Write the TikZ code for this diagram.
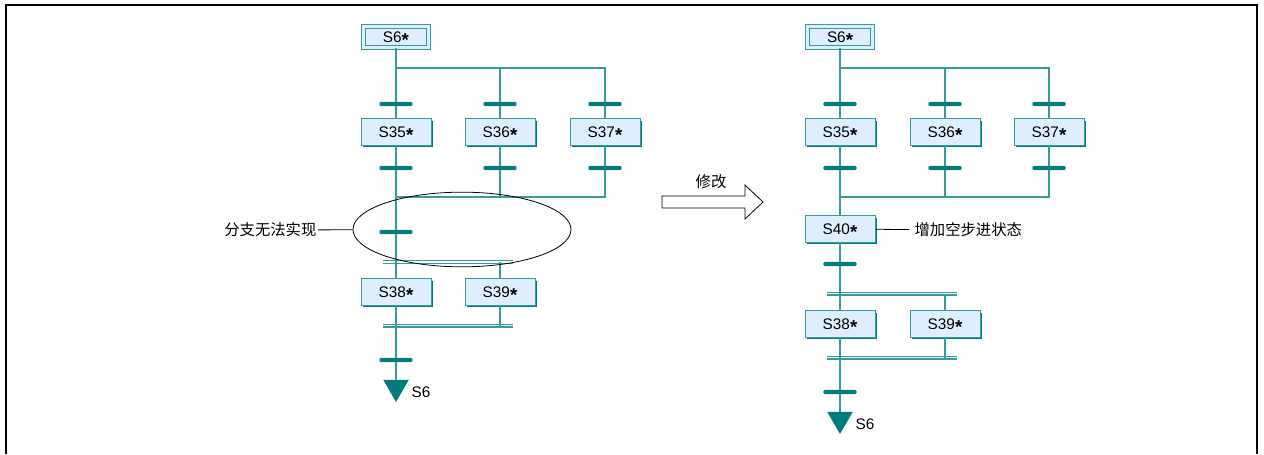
\documentclass[tikz,border=0pt]{standalone}
\usepackage{xcolor}
\usepackage{fontspec}
\setmainfont{Liberation Sans}
\newfontfamily\cjk{Noto Sans CJK SC}
\usetikzlibrary{calc, shapes.geometric, shadows}

\definecolor{sfcline}{RGB}{56,156,156}
\definecolor{sfcdark}{RGB}{0,124,124}
\definecolor{sfcfill}{RGB}{222,238,252}
\newcommand{\starmark}{\raisebox{-0.3em}[0pt][0pt]{\fontsize{14}{14}\selectfont\textbf{*}}}

\tikzset{
  stepbox/.style={draw=sfcline, fill=sfcfill, line width=0.75pt, inner sep=0pt,
    minimum width=52.5pt, minimum height=20pt,
    general shadow={fill=sfcdark, shadow xshift=1.4pt, shadow yshift=-1.4pt}},
  initbox/.style={stepbox, double=sfcfill, double distance=2pt,
    minimum width=49pt, minimum height=16pt},
  transbar/.style={fill=sfcdark, inner sep=0pt, minimum width=25pt, minimum height=3.2pt, rounded corners=1.5pt},
  endmark/.style={regular polygon, regular polygon sides=3, shape border rotate=180,
    fill=sfcdark, inner sep=0pt, outer sep=0pt, minimum size=22pt},
  flow/.style={draw=sfcline, line width=1pt},
  pardbl/.style={draw=sfcline, line width=0.8pt, double=white, double distance=1.4pt},
  notetext/.style={font=\cjk\fontsize{11.5}{13}\selectfont, inner sep=1pt}
}

\begin{document}
\begin{tikzpicture}[x=0.75pt, y=-0.75pt, every node/.style={font=\fontsize{11.5}{13}\selectfont}]
  \useasboundingbox (0,0) rectangle (1264,454);
  \draw[line width=1.5pt] (6,454) -- (6,5) -- (1257,5) -- (1257,454);

  % left chart
  \node[initbox] (lS6) at (396,37) {S6\starmark};
  \node[transbar] (lT1a) at (396,104) {};
  \node[transbar] (lT1b) at (500,104) {};
  \node[transbar] (lT1c) at (605,104) {};
  \node[stepbox] (lS35) at (396,132) {S35\starmark};
  \node[stepbox] (lS36) at (500,132) {S36\starmark};
  \node[stepbox] (lS37) at (605,132) {S37\starmark};
  \node[transbar] (lT2a) at (396,168) {};
  \node[transbar] (lT2b) at (500,168) {};
  \node[transbar] (lT2c) at (605,168) {};
  \node[transbar] (lT3) at (396,232) {};
  \node[stepbox] (lS38) at (396,292) {S38\starmark};
  \node[stepbox] (lS39) at (500,292) {S39\starmark};
  \node[transbar] (lT4) at (396,360) {};
  \node[endmark] (lEnd) at (396,387.3) {};
  \node (lEndLbl) at (421,392) {S6};
  \coordinate (lSplit) at (396,68);
  \coordinate (lMerge) at (396,197);
  \coordinate (lPar1w) at (383,262);
  \coordinate (lPar1e) at (513,262);
  \coordinate (lPar2w) at (383,325.5);
  \coordinate (lPar2e) at (513,325.5);

  \draw[pardbl] (lPar1w) -- (lPar1e);
  \draw[pardbl] (lPar2w) -- (lPar2e);
  \draw[flow] (lS6) -- (lSplit) -- (lT1a) -- (lS35) -- (lT2a) -- (lT3) -- (lS38) -- (lT4) -- (lEnd);
  \draw[flow] (lSplit) -| (lT1c);
  \draw[flow] (lSplit -| lT1b) -- (lT1b);
  \draw[flow] (lT1b) -- (lS36) -- (lT2b) -- (lT2b |- lMerge);
  \draw[flow] (lT1c) -- (lS37) -- (lT2c) |- (lMerge);
  \draw[flow] (lPar1w -| lS39) -- (lS39) -- (lS39 |- lPar2w);

  \node[ellipse, draw=black, line width=0.6pt, minimum width=163.5pt, minimum height=56pt] (lOval) at (462,229.5) {};
  \node[notetext, anchor=east] (lNote) at (318,230) {分支无法实现};
  \draw[line width=0.6pt] (lNote) -- (lOval);

  % modification arrow
  \draw[line width=0.6pt, fill=white] (662,196) -- (745,196) -- (745,185) -- (763,202) -- (745,219) -- (745,208) -- (662,208) -- cycle;
  \node[notetext] (modLbl) at (711,182) {修改};

  % right chart
  \node[initbox] (rS6) at (840,37) {S6\starmark};
  \node[transbar] (rT1a) at (840,104) {};
  \node[transbar] (rT1b) at (945,104) {};
  \node[transbar] (rT1c) at (1049,104) {};
  \node[stepbox] (rS35) at (840,132) {S35\starmark};
  \node[stepbox] (rS36) at (945,132) {S36\starmark};
  \node[stepbox] (rS37) at (1049,132) {S37\starmark};
  \node[transbar] (rT2a) at (840,168) {};
  \node[transbar] (rT2b) at (945,168) {};
  \node[transbar] (rT2c) at (1049,168) {};
  \node[stepbox] (rS40) at (840,229) {S40\starmark};
  \node[notetext, anchor=west, inner sep=4pt] (rNote) at (909,230) {增加空步进状态};
  \node[transbar] (rT3) at (840,264) {};
  \node[stepbox] (rS38) at (840,324) {S38\starmark};
  \node[stepbox] (rS39) at (945,324) {S39\starmark};
  \node[transbar] (rT4) at (840,392) {};
  \node[endmark] (rEnd) at (840,419.3) {};
  \node (rEndLbl) at (865,424) {S6};
  \coordinate (rSplit) at (840,68);
  \coordinate (rMerge) at (840,197);
  \coordinate (rPar1w) at (827,293.5);
  \coordinate (rPar1e) at (957,293.5);
  \coordinate (rPar2w) at (827,357.5);
  \coordinate (rPar2e) at (957,357.5);

  \draw[pardbl] (rPar1w) -- (rPar1e);
  \draw[pardbl] (rPar2w) -- (rPar2e);
  \draw[flow] (rS6) -- (rSplit) -- (rT1a) -- (rS35) -- (rT2a) -- (rS40) -- (rT3) -- (rS38) -- (rT4) -- (rEnd);
  \draw[flow] (rSplit) -| (rT1c);
  \draw[flow] (rSplit -| rT1b) -- (rT1b);
  \draw[flow] (rT1b) -- (rS36) -- (rT2b) -- (rT2b |- rMerge);
  \draw[flow] (rT1c) -- (rS37) -- (rT2c) |- (rMerge);
  \draw[flow] (rPar1w -| rS39) -- (rS39) -- (rS39 |- rPar2w);
  \draw[line width=0.6pt] (rS40) -- (rNote);
\end{tikzpicture}
\end{document}
